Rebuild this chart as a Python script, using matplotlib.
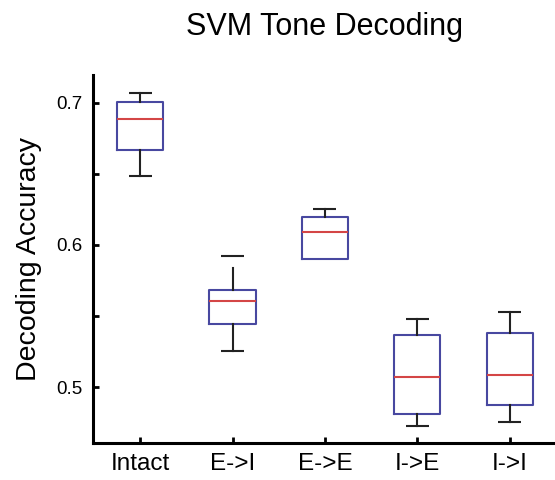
import matplotlib
matplotlib.use("Agg")
import matplotlib.pyplot as plt

plt.rcParams["font.family"] = ["Liberation Sans", "DejaVu Sans"]

groups = ["Intact", "E->I", "E->E", "I->E", "I->I"]
medians = [0.6885, 0.5607, 0.6089, 0.5073, 0.5087]
q1 = [0.6667, 0.5441, 0.5899, 0.4808, 0.4873]
q3 = [0.7005, 0.5684, 0.6197, 0.5368, 0.5378]
whisk_lo = [0.6484, 0.5254, 0.5899, 0.4723, 0.4751]
whisk_hi = [0.7068, 0.5835, 0.6251, 0.5479, 0.5530]
# E->E shows no lower whisker cap
cap_lo = [0.6484, 0.5254, None, 0.4723, 0.4751]
cap_hi = [0.7068, 0.5923, 0.6251, 0.5479, 0.5530]

stats = []
for i, g in enumerate(groups):
    stats.append({"label": g, "med": medians[i], "q1": q1[i], "q3": q3[i],
                  "whislo": whisk_lo[i], "whishi": whisk_hi[i], "fliers": []})

fig = plt.figure(figsize=(5.55, 4.8), dpi=100)
ax = fig.add_axes([0.1676, 0.0771, 0.8324, 0.7667])
pos = list(range(1, len(groups) + 1))
ax.bxp(stats, positions=pos, widths=0.5, showcaps=False,
       boxprops=dict(color="#4848a0", linewidth=1.5),
       medianprops=dict(color="#d44646", linewidth=1.5),
       whiskerprops=dict(color="#222222", linewidth=1.5))
for caps in (cap_lo, cap_hi):
    px = [p for p, c in zip(pos, caps) if c is not None]
    cy = [c for c in caps if c is not None]
    ax.hlines(cy, [p - 0.125 for p in px], [p + 0.125 for p in px], color="#222222", linewidth=1.5)

ax.set_xlim(0.49, 5.49)
ax.set_ylim(0.4606, 0.7197)
ax.set_yticks([0.5, 0.6, 0.7])
ax.set_yticklabels(["0.5", "0.6", "0.7"])
ax.set_yticks([0.55, 0.65], minor=True)
ax.set_xticks(pos)
ax.set_xticklabels(groups)
for s in ["top", "right"]:
    ax.spines[s].set_visible(False)
for s in ["left", "bottom"]:
    ax.spines[s].set_linewidth(2.2)
ax.tick_params(which="both", direction="in", length=4, width=2)
ax.tick_params(axis="y", labelsize=13.5, pad=7.5)
ax.tick_params(axis="x", labelsize=17.5, pad=7)
ax.set_ylabel("Decoding Accuracy", fontsize=20.5, labelpad=10)
ax.set_title("SVM Tone Decoding", fontsize=22, pad=29)

plt.savefig("out.png", dpi=100)
plt.close()
